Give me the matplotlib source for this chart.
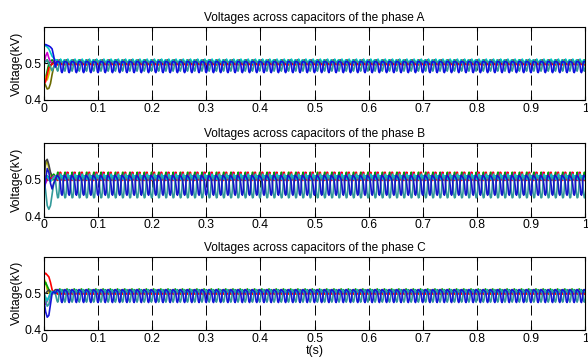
import matplotlib
matplotlib.use('Agg')
import matplotlib.pyplot as plt
import numpy as np

plt.rcParams['font.family'] = ['Liberation Sans', 'DejaVu Sans']

# ripple period and the sample times inside one period
period = 1 / 75.0
n_per = 10
t_start = [0, 0.003, 0.006, 0.009, 0.012, 0.015, 0.018, 0.021]
t_steady0 = 0.024

titles = ['Voltages across capacitors of the phase A',
          'Voltages across capacitors of the phase B',
          'Voltages across capacitors of the phase C']
xticks = [0, 0.1, 0.2, 0.3, 0.4, 0.5, 0.6, 0.7, 0.8, 0.9, 1]
xtick_labels = ['0', '0.1', '0.2', '0.3', '0.4', '0.5', '0.6', '0.7', '0.8', '0.9', '1']
yticks = [0.4, 0.5]

# phase A: (colour, start transient, one steady period)
phase_a = [
    ('#6b6b00', [0.45, 0.44, 0.43, 0.432, 0.445, 0.47, 0.49, 0.5],
     [0.5, 0.502, 0.5, 0.498, 0.5, 0.505, 0.503, 0.5, 0.498, 0.5]),
    ('#00a000', [0.455, 0.46, 0.48, 0.5, 0.505, 0.51, 0.505, 0.5],
     [0.505, 0.51, 0.505, 0.5, 0.498, 0.5, 0.502, 0.504, 0.5, 0.502]),
    ('#d000d0', [0.5, 0.52, 0.53, 0.515, 0.505, 0.5, 0.505, 0.51],
     [0.502, 0.5, 0.503, 0.51, 0.505, 0.5, 0.498, 0.5, 0.502, 0.5]),
    ('#c8c800', [0.47, 0.46, 0.455, 0.47, 0.49, 0.5, 0.505, 0.5],
     [0.498, 0.5, 0.508, 0.503, 0.5, 0.498, 0.5, 0.5, 0.503, 0.5]),
    ('#404040', [0.5, 0.505, 0.51, 0.5, 0.495, 0.5, 0.505, 0.5],
     [0.5, 0.498, 0.5, 0.505, 0.51, 0.505, 0.5, 0.498, 0.5, 0.5]),
    ('#ff0000', [0.445, 0.45, 0.47, 0.488, 0.495, 0.498, 0.5, 0.5],
     [0.498, 0.496, 0.497, 0.5, 0.502, 0.5, 0.498, 0.497, 0.498, 0.5]),
    ('#00c8c8', [0.545, 0.55, 0.545, 0.54, 0.53, 0.52, 0.515, 0.51],
     [0.51, 0.505, 0.5, 0.5, 0.505, 0.512, 0.508, 0.505, 0.503, 0.505]),
    ('#339a9a', [0.5, 0.505, 0.51, 0.5, 0.49, 0.48, 0.49, 0.5],
     [0.483, 0.479, 0.486, 0.5, 0.505, 0.507, 0.505, 0.504, 0.503, 0.495]),
    ('#1010e0', [0.55, 0.552, 0.55, 0.548, 0.545, 0.54, 0.52, 0.49],
     [0.505, 0.506, 0.505, 0.504, 0.503, 0.495, 0.478, 0.475, 0.48, 0.498]),
]

phase_b = [
    ('#c8c800', [0.5, 0.54, 0.55, 0.53, 0.51, 0.5, 0.5, 0.505],
     [0.505, 0.51, 0.52, 0.51, 0.505, 0.5, 0.505, 0.508, 0.505, 0.5]),
    ('#404040', [0.5, 0.55, 0.555, 0.54, 0.52, 0.51, 0.5, 0.5],
     [0.5, 0.505, 0.51, 0.508, 0.5, 0.498, 0.502, 0.505, 0.51, 0.505]),
    ('#00a000', [0.5, 0.505, 0.51, 0.505, 0.5, 0.51, 0.515, 0.51],
     [0.51, 0.52, 0.515, 0.505, 0.5, 0.505, 0.51, 0.505, 0.5, 0.505]),
    ('#d000d0', [0.48, 0.49, 0.5, 0.505, 0.5, 0.505, 0.51, 0.505],
     [0.505, 0.5, 0.505, 0.51, 0.52, 0.51, 0.505, 0.5, 0.502, 0.505]),
    ('#ff0000', [0.5, 0.51, 0.5, 0.5, 0.505, 0.5, 0.505, 0.51],
     [0.5, 0.498, 0.5, 0.505, 0.51, 0.52, 0.505, 0.5, 0.498, 0.5]),
    ('#00c8c8', [0.5, 0.505, 0.51, 0.5, 0.495, 0.5, 0.505, 0.51],
     [0.51, 0.505, 0.5, 0.5, 0.505, 0.515, 0.51, 0.505, 0.508, 0.51]),
    ('#339a9a', [0.5, 0.47, 0.43, 0.42, 0.43, 0.46, 0.49, 0.5],
     [0.462, 0.451, 0.452, 0.47, 0.5, 0.507, 0.505, 0.504, 0.5, 0.485]),
    ('#1515c8', [0.46, 0.5, 0.53, 0.52, 0.49, 0.475, 0.49, 0.5],
     [0.512, 0.51, 0.508, 0.505, 0.5, 0.485, 0.462, 0.458, 0.465, 0.5]),
]

phase_c = [
    ('#c8c800', [0.54, 0.53, 0.51, 0.5, 0.5, 0.505, 0.5, 0.5],
     [0.5, 0.505, 0.51, 0.505, 0.5, 0.498, 0.5, 0.502, 0.5, 0.5]),
    ('#00a000', [0.52, 0.53, 0.52, 0.51, 0.505, 0.5, 0.5, 0.505],
     [0.505, 0.5, 0.502, 0.51, 0.512, 0.505, 0.5, 0.5, 0.502, 0.505]),
    ('#d000d0', [0.48, 0.47, 0.48, 0.49, 0.5, 0.505, 0.5, 0.5],
     [0.5, 0.505, 0.51, 0.505, 0.5, 0.5, 0.502, 0.5, 0.5, 0.5]),
    ('#404040', [0.5, 0.5, 0.505, 0.51, 0.5, 0.5, 0.505, 0.51],
     [0.51, 0.505, 0.5, 0.498, 0.5, 0.505, 0.508, 0.51, 0.505, 0.505]),
    ('#ff0000', [0.55, 0.555, 0.55, 0.545, 0.53, 0.51, 0.5, 0.5],
     [0.5, 0.498, 0.497, 0.5, 0.505, 0.5, 0.498, 0.5, 0.5, 0.5]),
    ('#00c8c8', [0.5, 0.49, 0.48, 0.49, 0.5, 0.505, 0.5, 0.505],
     [0.505, 0.51, 0.505, 0.5, 0.5, 0.505, 0.51, 0.505, 0.503, 0.505]),
    ('#339a9a', [0.5, 0.48, 0.465, 0.47, 0.49, 0.5, 0.505, 0.5],
     [0.48, 0.476, 0.482, 0.5, 0.506, 0.508, 0.505, 0.504, 0.502, 0.492]),
    ('#1515d8', [0.48, 0.45, 0.435, 0.44, 0.47, 0.5, 0.505, 0.5],
     [0.508, 0.51, 0.508, 0.506, 0.504, 0.495, 0.478, 0.475, 0.482, 0.5]),
]

panels = [phase_a, phase_b, phase_c]

# steady part: one period repeated up to t = 1
n_cycles = int(np.ceil((1.0 - t_steady0) / period)) + 1
t_steady = t_steady0 + np.arange(n_cycles * n_per) * period / n_per

fig = plt.figure(figsize=(5.88, 3.62), dpi=100)
boxes = [(0.0748, 0.7238, 0.9202, 0.2016),
         (0.0748, 0.4014, 0.9202, 0.2044),
         (0.0748, 0.0884, 0.9202, 0.2025)]

for i, series in enumerate(panels):
    ax = fig.add_axes(boxes[i])
    for color, start, cyc in series:
        v = np.concatenate([start, np.tile(cyc, n_cycles)])
        tt = np.concatenate([t_start, t_steady])
        ax.plot(tt, v, color=color, linewidth=1.2)
    ax.set_xlim(0, 1)
    ax.set_ylim(0.4, 0.6)
    ax.set_xticks(xticks)
    ax.set_xticklabels(xtick_labels)
    ax.set_yticks(yticks)
    ax.tick_params(direction='in', labelsize=8.8, length=3, top=True, right=True, pad=2)
    ax.grid(True, axis='x', color='black', linestyle=(0, (10.3, 5.1)), linewidth=0.7)
    ax.set_title(titles[i], fontsize=8.6, pad=4)
    ax.set_ylabel('Voltage(kV)', fontsize=8.9, labelpad=1)
    for s in ax.spines.values():
        s.set_linewidth(0.8)

ax.set_xlabel('t(s)', fontsize=8.9, labelpad=0)

fig.savefig('out.png', dpi=100)
